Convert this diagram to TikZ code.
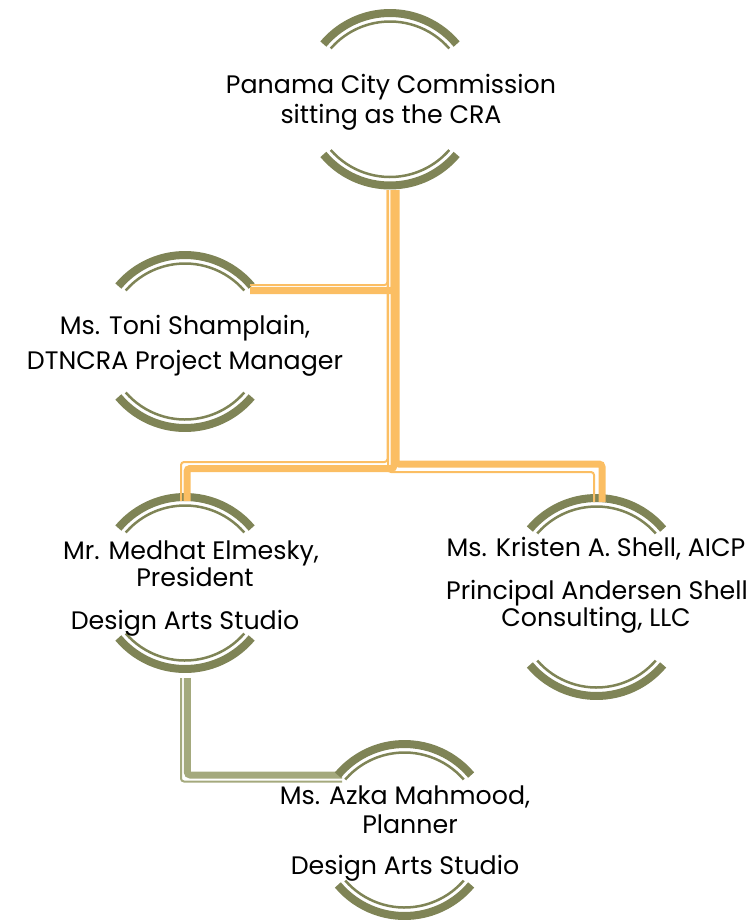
\documentclass[tikz,border=0pt]{standalone}
\usepackage{fontspec}
\setmainfont{Poppins}
\definecolor{olive}{HTML}{7F8456}
\definecolor{orng}{HTML}{FBBE63}
\definecolor{lgreen}{HTML}{A4A97D}
\tikzset{
  txt/.style={anchor=base, inner sep=0pt, font=\fontsize{25.3}{30}\selectfont, text=black},
  thickarc/.style={draw=olive, line width=8pt, line cap=butt},
  thinarc/.style={draw=olive, line width=2.5pt, line cap=butt},
  obig/.style={draw=orng, line width=7pt, rounded corners=3pt},
  osmall/.style={draw=orng, line width=2pt, rounded corners=3pt},
  gbig/.style={draw=lgreen, line width=7pt, rounded corners=3pt},
  gsmall/.style={draw=lgreen, line width=2pt, rounded corners=3pt}
}
% #1 center x, #2 top stroke y, #3 bottom stroke y (pixel units, y down)
\newcommand\archpair[3]{%
  \path (#1,-#2-87) coordinate (tc) (#1,-#3+87) coordinate (bc);
  \draw[thickarc] (tc) ++(40:87) arc[start angle=40, end angle=140, radius=87];
  \draw[thinarc] (tc) ++(41:78.5) arc[start angle=41, end angle=139, radius=78.5];
  \draw[thickarc] (bc) ++(220:87) arc[start angle=220, end angle=320, radius=87];
  \draw[thinarc] (bc) ++(221:78.5) arc[start angle=221, end angle=319, radius=78.5];
}
\begin{document}
\begin{tikzpicture}[x=1pt,y=1pt]
\useasboundingbox (0,0) rectangle (755,-922);

% named connector points
\coordinate (craB) at (394,-190);
\coordinate (craBs) at (387.5,-190);
\coordinate (toniR) at (250,-290.5);
\coordinate (toniRs) at (250,-285);
\coordinate (medT) at (187,-501);
\coordinate (medTs) at (181,-501);
\coordinate (kriT) at (602,-502);
\coordinate (kriTs) at (594,-502);
\coordinate (medB) at (187.3,-678);
\coordinate (medBs) at (181,-678);
\coordinate (azkL) at (342,-775);
\coordinate (azkLs) at (342,-781.5);

% green connector (under arcs)
\draw[gbig] (medB) -- (medB |- azkL) -- (azkL);
\draw[gsmall] (medBs) -- (medBs |- azkLs) -- (azkLs);

% arcs
\archpair{390}{13}{185.5}
\archpair{185}{255}{428}
\archpair{185}{497}{669}
\archpair{596.5}{498}{696}
\archpair{404.5}{744}{916}

% orange connectors
\draw[obig] (craB) |- (toniR);
\draw[osmall] (craBs) |- (toniRs);
\draw[obig] (craB) -- (394,-468.5) -- (medT |- 0,-468.5) -- (medT);
\draw[osmall] (craBs) -- (387.5,-462) -- (medTs |- 0,-462) -- (medTs);
\draw[obig] (396,-190) -- (396,-464) -- (kriT |- 0,-464) -- (kriT);
\draw[osmall] (388,-190) -- (388,-472) -- (kriTs |- 0,-472) -- (kriTs);

% texts
\node[txt] (cra1) at (391,-93) {Panama City Commission};
\node[txt] (cra2) at (391,-123) {sitting as the CRA};
\node[txt] (toni1) at (185,-334) {Ms. Toni Shamplain,};
\node[txt] (toni2) at (185,-369) {DTNCRA Project Manager};
\node[txt] (med1) at (191,-559) {Mr. Medhat Elmesky,};
\node[txt] (med2) at (195,-586) {President};
\node[txt] (med3) at (185,-629) {Design Arts Studio};
\node[txt] (kri1) at (596,-556) {Ms. Kristen A. Shell, AICP};
\node[txt] (kri2) at (597,-599) {Principal Andersen Shell};
\node[txt] (kri3) at (596,-626) {Consulting, LLC};
\node[txt] (azk1) at (405,-804) {Ms. Azka Mahmood,};
\node[txt] (azk2) at (410,-833) {Planner};
\node[txt] (azk3) at (405,-874) {Design Arts Studio};
\end{tikzpicture}
\end{document}
